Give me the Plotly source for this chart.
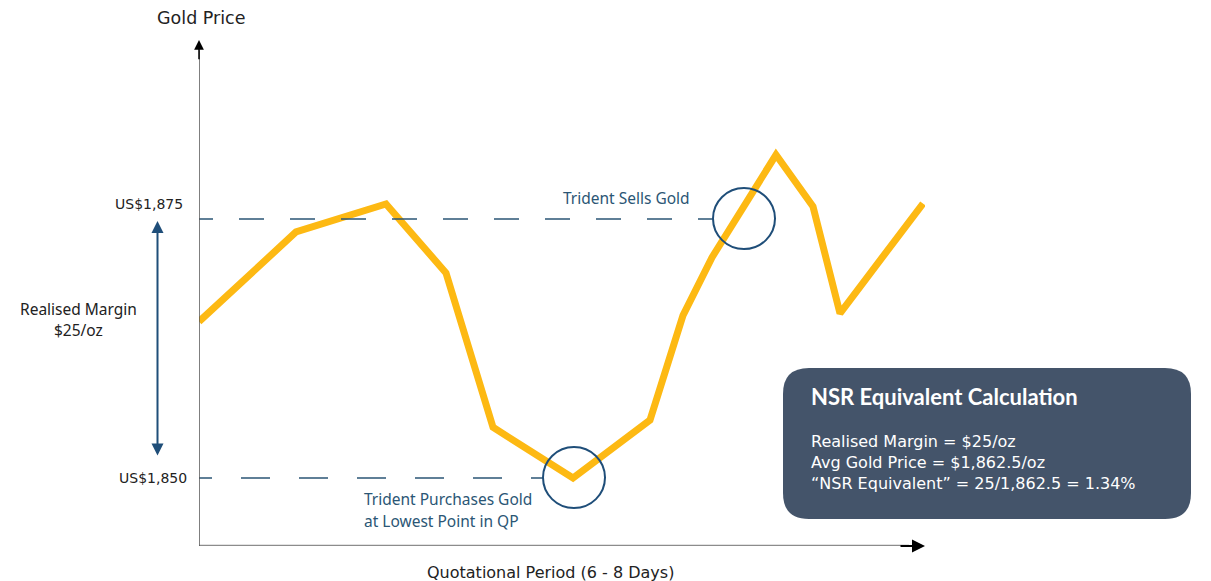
import plotly.graph_objects as go

# ---------------- data ----------------
days = [0, 9.7, 18.7, 24.7, 29.4, 37.4, 45.1, 48.4, 51.3, 57.7, 61.4, 64.1, 72.4]
gold_price = [1865.1, 1873.75, 1876.45, 1869.8, 1854.9, 1850.0, 1855.6,
              1865.7, 1871.3, 1881.2, 1876.2, 1865.9, 1876.5]
purchase_price = 1850
sale_price = 1875
purchase_day = 37.5
sale_day = 54.5
price_labels = ["US$1,850", "US$1,875"]
margin_label = ["Realised Margin", "$25/oz"]
nsr_title = "NSR Equivalent Calculation"
nsr_lines = ["Realised Margin = $25/oz",
             "Avg Gold Price = $1,862.5/oz",
             "\u201cNSR Equivalent\u201d = 25/1,862.5 = 1.34%"]

# ---------------- geometry helpers (layout only) ----------------
W, H = 1211, 581
ML, MR, MT, MB = 199, 286, 40, 35
X_RANGE = [0, 72.6]
Y_RANGE = [1843.44, 1892.28]


def pxx(px):
    return (px - ML) / (W - ML - MR)


def pxy(py):
    return (H - MB - py) / (H - MT - MB)


GOLD = "#FDB913"
NAVY = "#1F4E79"
DASHNAVY = "#2B5675"
BOX = "#44546A"

fig = go.Figure()

fig.add_trace(go.Scatter(
    x=days, y=gold_price, mode="lines",
    line=dict(color=GOLD, width=7), hoverinfo="skip", showlegend=False,
))

shapes = []
# dashed reference lines
shapes.append(dict(type="line", xref="x", yref="y", x0=0, x1=sale_day - 3.1,
                   y0=sale_price, y1=sale_price,
                   line=dict(color=DASHNAVY, width=1.5,
                             dash="14px,26px" + ",25px,26px" * 12)))
shapes.append(dict(type="line", xref="x", yref="y", x0=0, x1=purchase_day - 3.1,
                   y0=purchase_price, y1=purchase_price,
                   line=dict(color=DASHNAVY, width=1.5,
                             dash="13px,29px" + ",29px,29px" * 8)))
# circles
for cx, cy in [(sale_day, sale_price), (purchase_day, purchase_price)]:
    shapes.append(dict(type="circle", xref="x", yref="y",
                       xsizemode="pixel", ysizemode="pixel",
                       xanchor=cx, yanchor=cy, x0=-31, x1=31, y0=-30, y1=31,
                       line=dict(color=NAVY, width=2)))
# x axis line (gray)
shapes.append(dict(type="line", xref="x", yref="y", x0=0, x1=71.0,
                   y0=Y_RANGE[0], y1=Y_RANGE[0],
                   line=dict(color="#8C8C8C", width=2.5)))
# y axis line
shapes.append(dict(type="line", xref="x", yref="y", x0=0, x1=0,
                   y0=Y_RANGE[0], y1=Y_RANGE[1] - 1.0,
                   line=dict(color="#555555", width=1.5)))

# NSR rounded box
L, R, T, B, r = 783, 1191, 368, 519, 26
pts = [("M", (L + r, T)), ("L", (R - r, T)), ("Q", (R, T), (R, T + r)),
       ("L", (R, B - r)), ("Q", (R, B), (R - r, B)), ("L", (L + r, B)),
       ("Q", (L, B), (L, B - r)), ("L", (L, T + r)), ("Q", (L, T), (L + r, T))]
path = ""
for item in pts:
    cmd = item[0]
    coords = " ".join(f"{pxx(p[0]):.5f},{pxy(p[1]):.5f}" for p in item[1:])
    path += f"{cmd} {coords} "
path += "Z"
shapes.append(dict(type="path", xref="paper", yref="paper", path=path,
                   fillcolor=BOX, line=dict(width=0), layer="above"))

annotations = []
# axis arrowheads
annotations.append(dict(x=X_RANGE[1], y=Y_RANGE[0], ax=70.0, ay=Y_RANGE[0],
                        xref="x", yref="y", axref="x", ayref="y", text="",
                        showarrow=True, arrowhead=2, arrowsize=1.3,
                        arrowwidth=2, arrowcolor="#000000"))
annotations.append(dict(x=0, y=Y_RANGE[1], ax=0, ay=Y_RANGE[1] - 2.0,
                        xref="x", yref="y", axref="x", ayref="y", text="",
                        showarrow=True, arrowhead=2, arrowsize=1.3,
                        arrowwidth=1.5, arrowcolor="#000000"))
# double arrow (realised margin)
annotations.append(dict(x=pxx(157.5), y=pxy(221), ax=0, ay=236,
                        xref="paper", yref="paper", text="",
                        showarrow=True, arrowhead=2, startarrowhead=2,
                        arrowside="end+start", arrowsize=1.2, startarrowsize=1.2,
                        arrowwidth=2, arrowcolor=NAVY))

TXT = "#222222"


def label(px, py, text, family, size, color, xanchor="center", align="center"):
    annotations.append(dict(xref="paper", yref="paper", x=pxx(px), y=pxy(py),
                            xanchor=xanchor, yanchor="middle", align=align,
                            text=text, showarrow=False,
                            font=dict(family=family, size=size, color=color)))


# axis titles
label(201, 18, "Gold Price", "DejaVu Sans", 17.5, TXT)
label(550, 572, "Quotational Period (6 - 8 Days)", "DejaVu Sans", 16, TXT)
# price labels
label(185, 204, price_labels[1], "DejaVu Sans", 14, TXT, xanchor="right")
label(189, 478, price_labels[0], "DejaVu Sans", 14, TXT, xanchor="right")
label(78, 309, margin_label[0], "Noto Sans", 15.5, TXT)
label(78, 330, margin_label[1], "Noto Sans", 15.5, TXT)
# trident labels
label(626, 198, "Trident Sells Gold", "Noto Sans", 15.5, DASHNAVY)
label(362, 499, "Trident Purchases Gold", "Noto Sans", 15.5, DASHNAVY,
      xanchor="left", align="left")
label(362, 521, "at Lowest Point in QP", "Noto Sans", 15.5, DASHNAVY,
      xanchor="left", align="left")
# NSR box texts
label(809, 397, "<b>" + nsr_title + "</b>", "Lato", 22, "white",
      xanchor="left", align="left")
label(809, 462, "<br>".join(nsr_lines), "DejaVu Sans", 16, "white",
      xanchor="left", align="left")

fig.update_layout(
    width=W, height=H, autosize=False,
    margin=dict(l=ML, r=MR, t=MT, b=MB, pad=0),
    paper_bgcolor="white", plot_bgcolor="white",
    xaxis=dict(range=X_RANGE, visible=False, fixedrange=True),
    yaxis=dict(range=Y_RANGE, visible=False, fixedrange=True),
    shapes=shapes, annotations=annotations, showlegend=False,
)

fig.write_html("out.html", post_script="document.body.style.margin='0';",
               config={"displayModeBar": False})
